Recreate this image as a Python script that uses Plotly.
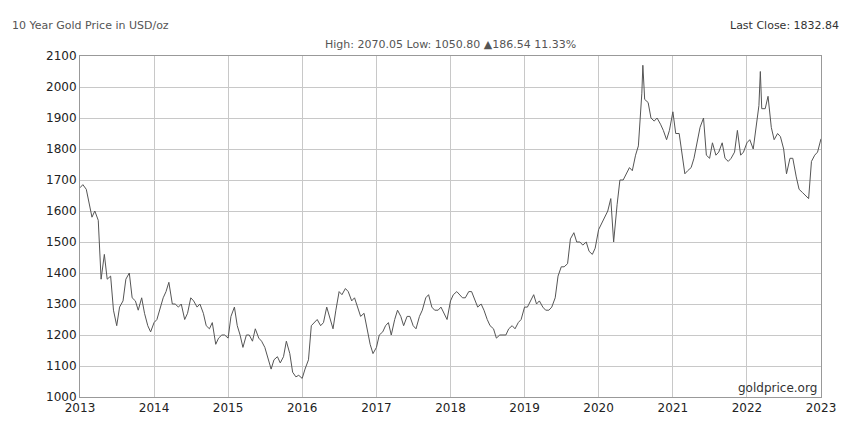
import pandas as pd
import plotly.graph_objs as go

# semimonthly gold price readings (USD/oz), 1st and 15th of each month
p2013 = [1675, 1685, 1670, 1630, 1580, 1600, 1570, 1380, 1460, 1380, 1390, 1280,
         1230, 1290, 1310, 1380, 1400, 1320, 1310, 1280, 1320, 1270, 1230, 1210]
p2014 = [1240, 1250, 1290, 1320, 1340, 1370, 1300, 1300, 1290, 1300, 1250, 1270,
         1320, 1310, 1290, 1300, 1270, 1230, 1220, 1240, 1170, 1190, 1200, 1200]
p2015 = [1190, 1260, 1290, 1230, 1200, 1160, 1200, 1200, 1180, 1220, 1190, 1180,
         1160, 1130, 1090, 1120, 1130, 1110, 1130, 1180, 1140, 1080, 1065, 1070]
p2016 = [1060, 1090, 1120, 1230, 1240, 1250, 1230, 1240, 1290, 1260, 1220, 1280,
         1340, 1330, 1350, 1340, 1310, 1320, 1290, 1260, 1270, 1220, 1170, 1140]
p2017 = [1160, 1200, 1210, 1230, 1240, 1200, 1250, 1280, 1260, 1230, 1260, 1260,
         1230, 1220, 1260, 1280, 1320, 1330, 1290, 1280, 1280, 1290, 1270, 1250]
p2018 = [1310, 1330, 1340, 1330, 1320, 1320, 1340, 1340, 1310, 1290, 1300, 1280,
         1250, 1230, 1220, 1190, 1200, 1200, 1200, 1220, 1230, 1220, 1240, 1250]
p2019 = [1290, 1290, 1310, 1330, 1300, 1310, 1290, 1280, 1280, 1290, 1320, 1390,
         1420, 1420, 1430, 1510, 1530, 1500, 1500, 1490, 1500, 1470, 1460, 1480]
p2020 = [1540, 1560, 1580, 1600, 1640, 1500, 1620, 1700, 1700, 1720, 1740, 1730,
         1780, 1810, 1980, 1960, 1950, 1900, 1890, 1900, 1880, 1860, 1830, 1860]
p2021 = [1920, 1850, 1850, 1790, 1720, 1730, 1740, 1770, 1830, 1870, 1900, 1780,
         1770, 1820, 1780, 1790, 1820, 1770, 1760, 1770, 1790, 1860, 1780, 1790]
p2022 = [1820, 1830, 1800, 1870, 1940, 1930, 1930, 1970, 1870, 1830, 1850, 1840,
         1800, 1720, 1770, 1770, 1710, 1670, 1660, 1650, 1640, 1760, 1780, 1790]
last_close = 1832.84

peak_dates = ['2020-08-06', '2022-03-08']
peak_vals = [2070.05, 2050]

prices = p2013 + p2014 + p2015 + p2016 + p2017 + p2018 + p2019 + p2020 + p2021 + p2022
dates = list(pd.date_range('2013-01-01', periods=len(prices), freq='SMS'))
s = pd.Series(prices + peak_vals + [last_close],
              index=dates + list(pd.to_datetime(peak_dates)) + [pd.Timestamp('2023-01-01')]).sort_index()

fig = go.Figure(go.Scatter(x=s.index, y=s.values, mode='lines',
                           line=dict(color='#555555', width=1)))

grid = '#c8c8c8'
fig.update_layout(
    width=859, height=435, showlegend=False,
    paper_bgcolor='white', plot_bgcolor='white',
    margin=dict(l=72, r=46, t=48, b=46),
    font=dict(family='DejaVu Sans', size=12, color='#222222'),
    xaxis=dict(range=['2013-01-01', '2023-01-01'], dtick='M12', tickformat='%Y',
               showgrid=True, gridcolor=grid, showline=True, linecolor='#999999',
               mirror=True, ticks='', zeroline=False, automargin=False),
    yaxis=dict(range=[1000, 2100], dtick=100, showgrid=True, gridcolor=grid,
               showline=True, linecolor='#999999', mirror=True, zeroline=False,
               automargin=False),
    annotations=[
        dict(text='10 Year Gold Price in USD/oz', x=0, y=1, xref='paper', yref='paper',
             xanchor='left', yanchor='bottom', yshift=22, xshift=-70, showarrow=False,
             font=dict(size=11, color='#555555')),
        dict(text='High: 2070.05 Low: 1050.80 ▲186.54 11.33%', x=0.5, y=1,
             xref='paper', yref='paper', xanchor='center', yanchor='bottom', yshift=3,
             showarrow=False, font=dict(size=11, color='#555555')),
        dict(text='Last Close: 1832.84', x=1, y=1, xref='paper', yref='paper',
             xanchor='right', yanchor='bottom', yshift=22, xshift=20, showarrow=False,
             font=dict(size=11, color='#333333')),
        dict(text='goldprice.org', x=1, y=0, xref='paper', yref='paper',
             xanchor='right', yanchor='bottom', xshift=-2, showarrow=False,
             font=dict(size=12, color='#333333')),
    ])

fig.write_html('out.html')
